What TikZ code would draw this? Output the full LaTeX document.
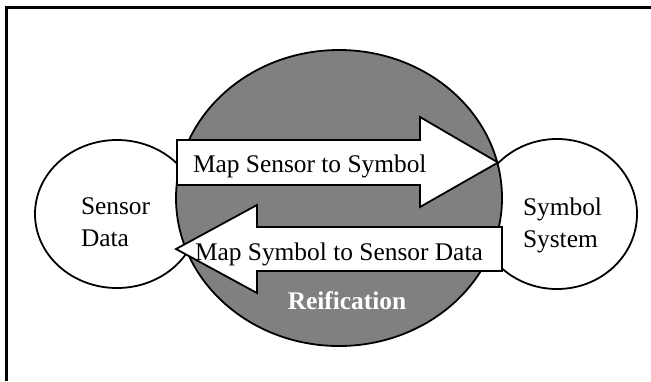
\documentclass[tikz,border=0pt]{standalone}
\usepackage{fontspec}
\setmainfont{Liberation Serif}
\usetikzlibrary{shapes.geometric}
\definecolor{reifGrey}{RGB}{128, 128, 128}

\begin{document}
\begin{tikzpicture} [
        x=0.5pt, y=-0.5pt,
        font=\fontsize{12.7}{16}\selectfont,
        blob/.style={draw, ellipse, line width=0.9pt, inner sep=0},
        bigarrow/.style={draw, line width=0.9pt, fill=white, line join=miter},
        lbl/.style={inner sep=0, outer sep=0}
    ]

    \useasboundingbox (0,0) rectangle (651,381);

    % frame
    \draw[line width=1.4pt] (6.5,381) |- (651,7.5);

    % the two ends
    \node[blob, fill=white, minimum width=82pt, minimum height=74pt] (sensor) at (117,214) {};
    \node[blob, fill=white, minimum width=80pt, minimum height=75pt] (symbol) at (557,214) {};

    % reification in the middle
    \node[blob, fill=reifGrey, minimum width=163pt, minimum height=148pt] (reif) at (339,198) {};

    \draw[bigarrow] (177,140) -- (420,140) -- (420,117) -- (498,162.5)
        -- (420,207) -- (420,185) -- (177,185) -- cycle;
    \draw[bigarrow] (502,227) -- (257,227) -- (257,205) -- (176,249)
        -- (257,293) -- (257,271) -- (502,271) -- cycle;

    \node[lbl, anchor=base west] (toSymbol) at (193,172) {Map Sensor to Symbol};
    \node[lbl, anchor=base west] (toSensor) at (195,260) {Map Symbol to Sensor Data};
    \node[lbl, anchor=base, text=white, font=\fontsize{12.7}{16}\selectfont\bfseries] (reifText) at (347,309) {Reification};

    \node[lbl, anchor=north west, align=left] (sensorText) at (81,198) {Sensor\\Data};
    \node[lbl, anchor=north west, align=left] (symbolText) at (523,198) {Symbol\\System};

\end{tikzpicture}
\end{document}
